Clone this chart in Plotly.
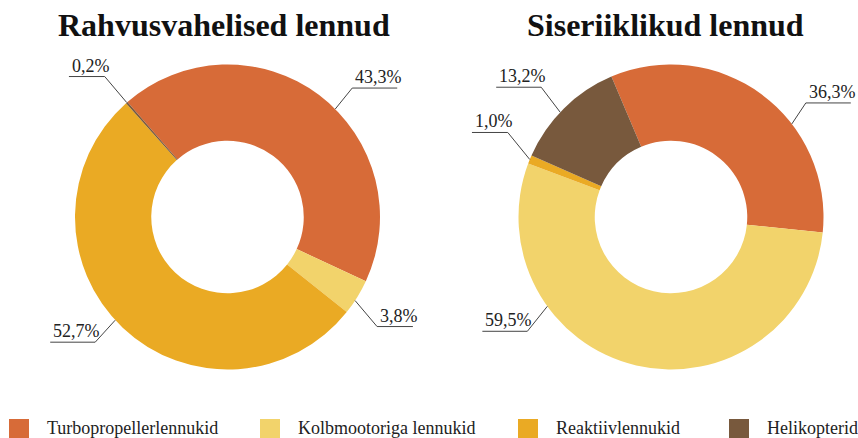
import math
import plotly.graph_objects as go

# Aircraft categories and shares (%)
categories = ["Turbopropellerlennukid", "Kolbmootoriga lennukid", "Reaktiivlennukid", "Helikopterid"]
intl_values = [43.3, 3.8, 52.7, 0.2]
domestic_values = [36.3, 59.5, 1.0, 13.2]
titles = ["Rahvusvahelised lennud", "Siseriiklikud lennud"]
colors = ["#D76B38", "#F2D36B", "#EAAA24", "#78593D"]

W, H = 858, 438
FONT = "Liberation Serif"
TEXT = "#222222"
LINE = "#444444"


def px(x):
    return x / W


def py(y):
    return 1 - y / H


def fmt(v):
    return f"{v:.1f}".replace(".", ",") + "%"


# donut geometry in pixels, start angle, angular nudges for label anchors,
# and the leader offset (dx, dy) from the ring edge to the label underline
pies = [
    dict(values=intl_values, title=titles[0], cx=227.5, cy=217, r=152.5, rot=-41,
         nudge=[8, 1.5, 4, 0],
         leader=[(17, -21), (22, 26), (-20, 22), (-22, -26)], title_x=224),
    dict(values=domestic_values, title=titles[1], cx=671, cy=217, r=152.5, rot=-23,
         nudge=[16, 41, 0, -2],
         leader=[(14, -21), (-20, 25), (-22, -27), (-19, -25)], title_x=665),
]

fig = go.Figure()
shapes = []
annotations = []

for p in pies:
    cx, cy, r = p["cx"], p["cy"], p["r"]
    fig.add_trace(go.Pie(
        labels=categories,
        values=p["values"],
        hole=0.5,
        sort=False,
        direction="clockwise",
        rotation=p["rot"],
        marker=dict(colors=colors, line=dict(width=0)),
        textinfo="none",
        hovertemplate="%{label}: %{value}%<extra></extra>",
        showlegend=False,
        domain=dict(x=[px(cx - r), px(cx + r)], y=[py(cy + r), py(cy - r)]),
    ))

    annotations.append(dict(
        text=f"<b>{p['title']}</b>", x=px(p["title_x"]), y=py(45), xref="paper", yref="paper",
        xanchor="center", yanchor="bottom", showarrow=False,
        font=dict(family=FONT, size=32, color="#111111"),
    ))

    # leader lines and underlined value labels
    total = sum(p["values"])
    start = p["rot"]
    for v, nudge, (dx, dy) in zip(p["values"], p["nudge"], p["leader"]):
        span = 360 * v / total
        ang = math.radians(start + span / 2 + nudge)
        start += span
        ax = cx + r * math.sin(ang)
        ay = cy - r * math.cos(ang)
        ex, ey = ax + dx, ay + dy
        label = fmt(v)
        w = 9.2 * len(label) - 1
        x0, x1 = (ex, ex + w) if dx > 0 else (ex - w, ex)
        shapes.append(dict(type="line", xref="paper", yref="paper",
                           x0=px(ax), y0=py(ay), x1=px(ex), y1=py(ey),
                           line=dict(color=LINE, width=1)))
        shapes.append(dict(type="line", xref="paper", yref="paper",
                           x0=px(x0), y0=py(ey), x1=px(x1), y1=py(ey),
                           line=dict(color=LINE, width=1)))
        annotations.append(dict(
            text=label, x=px(x0 + 1), y=py(ey + 1), xref="paper", yref="paper",
            xanchor="left", yanchor="bottom", showarrow=False,
            font=dict(family=FONT, size=18, color=TEXT),
        ))

# legend row
legend_x = [9, 260, 518, 729]
for name, col, lx in zip(categories, colors, legend_x):
    shapes.append(dict(type="rect", xref="paper", yref="paper",
                       x0=px(lx), x1=px(lx + 20), y0=py(438), y1=py(419),
                       fillcolor=col, line=dict(width=0)))
    annotations.append(dict(
        text=name, x=px(lx + 36), y=py(428), xref="paper", yref="paper",
        xanchor="left", yanchor="middle", showarrow=False,
        font=dict(family=FONT, size=18, color=TEXT),
    ))

fig.update_layout(
    width=W, height=H,
    margin=dict(l=0, r=0, t=0, b=0),
    paper_bgcolor="white", plot_bgcolor="white",
    shapes=shapes, annotations=annotations,
    font=dict(family=FONT),
)

fig.write_html("out.html")
